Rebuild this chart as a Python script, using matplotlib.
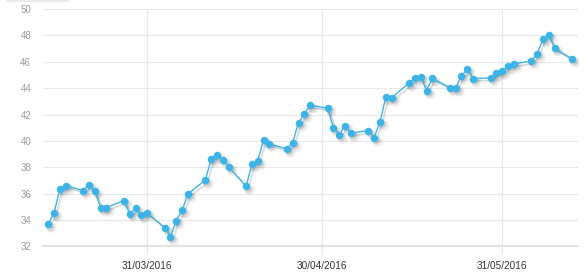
import matplotlib
matplotlib.use('Agg')
import matplotlib.pyplot as plt
import matplotlib.dates as mdates
import matplotlib.transforms as mtransforms
from matplotlib.lines import Line2D
import pandas as pd

plt.rcParams['font.family'] = ['Liberation Sans', 'DejaVu Sans']

dates = ['2016-03-14', '2016-03-15', '2016-03-16', '2016-03-17', '2016-03-20', '2016-03-21',
         '2016-03-22', '2016-03-23', '2016-03-24', '2016-03-27', '2016-03-28', '2016-03-29',
         '2016-03-30', '2016-03-31',
         '2016-04-03', '2016-04-04', '2016-04-05', '2016-04-06', '2016-04-07', '2016-04-10',
         '2016-04-11', '2016-04-12', '2016-04-13', '2016-04-14', '2016-04-17', '2016-04-18',
         '2016-04-19', '2016-04-20', '2016-04-21', '2016-04-24', '2016-04-25', '2016-04-26',
         '2016-04-27', '2016-04-28',
         '2016-05-01', '2016-05-02', '2016-05-03', '2016-05-04', '2016-05-05', '2016-05-08',
         '2016-05-09', '2016-05-10', '2016-05-11', '2016-05-12', '2016-05-15', '2016-05-16',
         '2016-05-17', '2016-05-18', '2016-05-19', '2016-05-22', '2016-05-23', '2016-05-24',
         '2016-05-25', '2016-05-26', '2016-05-29', '2016-05-30', '2016-05-31',
         '2016-06-01', '2016-06-02', '2016-06-05', '2016-06-06', '2016-06-07', '2016-06-08',
         '2016-06-09', '2016-06-12']
values = [33.70, 34.53, 36.37, 36.62, 36.24, 36.67, 36.20, 34.95, 34.95, 35.48, 34.50, 34.90,
          34.36, 34.54,
          33.44, 32.73, 33.95, 34.73, 35.99, 37.03, 38.64, 38.92, 38.59, 38.04, 36.56, 38.24,
          38.49, 40.10, 39.78, 39.40, 39.88, 41.39, 42.03, 42.71,
          42.48, 41.02, 40.46, 41.16, 40.59, 40.79, 40.26, 41.45, 43.32, 43.29, 44.38, 44.80,
          44.88, 43.82, 44.76, 44.05, 44.00, 44.95, 45.43, 44.73, 44.78, 45.14, 45.29,
          45.67, 45.84, 46.07, 46.60, 47.73, 48.04, 47.03, 46.22]
x_ticks = ['2016-03-31', '2016-04-30', '2016-05-31']
y_ticks = [32, 34, 36, 38, 40, 42, 44, 46, 48, 50]

x = pd.to_datetime(dates)
blue = '#3cb4e8'
grid = '#e8e8e8'

fig = plt.figure(figsize=(5.88, 2.79), dpi=100)
ax = fig.add_axes([0.0731, 0.1165, 0.9107, 0.851])

# soft drop shadow under the series
for dx, dy, a, ms in [(3, -3, 0.06, 7.5), (2, -2.5, 0.08, 6.0), (2, -2, 0.08, 4.5)]:
    off = mtransforms.offset_copy(ax.transData, fig=fig, x=dx, y=dy, units='dots')
    ax.plot(x, values, color='black', alpha=a, lw=0.9, marker='o', ms=ms,
            mew=0, transform=off, zorder=2)

ax.plot(x, values, color=blue, lw=1.0, marker='o', ms=5.4, mew=0, zorder=3)

ax.set_xlim(mdates.date2num(pd.Timestamp('2016-03-13')) + 0.1,
            mdates.date2num(pd.Timestamp('2016-06-13')) + 0.1)
ax.set_ylim(32, 50)
ax.set_yticks(y_ticks)
ax.set_xticks(pd.to_datetime(x_ticks))
ax.xaxis.set_major_formatter(mdates.DateFormatter('%d/%m/%Y'))

ax.grid(True, color=grid, lw=0.8)
ax.set_axisbelow(True)
for s in ['top', 'right', 'left']:
    ax.spines[s].set_visible(False)
ax.spines['bottom'].set_color('#dedede')
ax.spines['bottom'].set_linewidth(1.3)

ax.tick_params(axis='y', length=0, pad=8.5, labelsize=7, labelcolor='#9a9a9a')
ax.tick_params(axis='x', length=6, width=0.8, color=grid, pad=4.5,
               labelsize=7.2, labelcolor='#333333')

fig.add_artist(Line2D([7 / 588, 68 / 588], [0.998, 0.998], color='#e6e6e6', lw=1.2))

plt.savefig('out.png', dpi=100)
